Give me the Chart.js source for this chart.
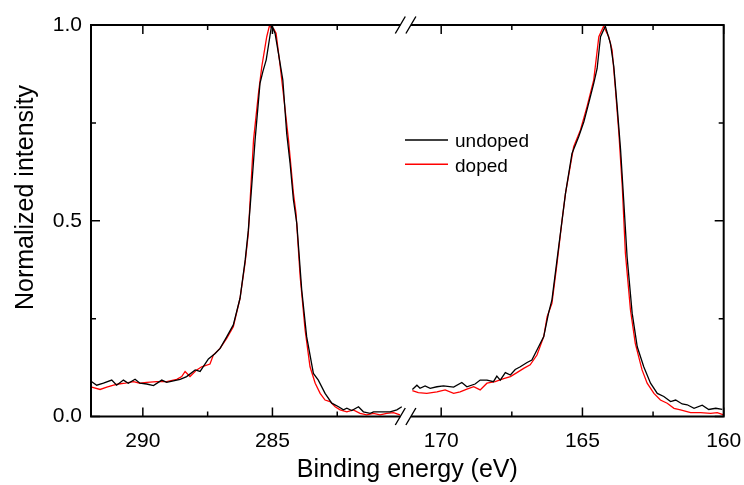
<!DOCTYPE html>
<html>
<head>
<meta charset="utf-8">
<script src="https://cdn.jsdelivr.net/npm/chart.js@4/dist/chart.umd.min.js"></script>
<style>
  html, body { margin: 0; padding: 0; background: #fff; }
  canvas { display: block; }
</style>
</head>
<body>
<canvas id="xps-chart" width="744" height="485"></canvas>
<script>
// C 1s region (left panel), binding energy in eV
const c1sEnergyUndoped = [291.97, 291.78, 291.52, 291.20, 291.01, 290.75, 290.56, 290.30, 290.11, 289.85,
  289.59, 289.27, 289.08, 288.82, 288.56, 288.31, 287.98, 287.79, 287.47, 287.21,
  287.02, 286.76, 286.51, 286.25, 286.05, 285.93, 285.84, 285.67, 285.48, 285.37,
  285.24, 285.03, 284.90, 284.77, 284.60, 284.45, 284.32, 284.19, 284.06, 283.87,
  283.68, 283.42, 283.23, 282.97, 282.71, 282.45, 282.26, 282.13, 281.94, 281.68,
  281.49, 281.23, 281.10, 280.85, 280.46, 280.20, 280.01]
const c1sUndoped = [0.089, 0.080, 0.085, 0.093, 0.080, 0.093, 0.085, 0.095, 0.085, 0.083,
  0.079, 0.093, 0.087, 0.091, 0.095, 0.102, 0.119, 0.115, 0.147, 0.161,
  0.174, 0.204, 0.234, 0.302, 0.400, 0.476, 0.553, 0.706, 0.851, 0.881,
  0.911, 1.000, 0.979, 0.928, 0.860, 0.723, 0.647, 0.553, 0.493, 0.323,
  0.204, 0.110, 0.093, 0.059, 0.034, 0.025, 0.017, 0.021, 0.015, 0.025,
  0.012, 0.008, 0.012, 0.012, 0.012, 0.017, 0.025]

const c1sEnergyDoped = [291.97, 291.65, 291.39, 291.13, 290.94, 290.68, 290.36, 290.11, 289.85, 289.46,
  289.08, 288.69, 288.50, 288.37, 288.18, 287.92, 287.73, 287.41, 287.28, 287.02,
  286.76, 286.51, 286.25, 286.05, 285.93, 285.86, 285.73, 285.54, 285.41, 285.22,
  285.12, 284.96, 284.86, 284.70, 284.58, 284.38, 284.19, 284.09, 283.93, 283.74,
  283.55, 283.35, 283.16, 282.97, 282.78, 282.58, 282.39, 282.13, 281.88, 281.62,
  281.36, 281.10, 280.85, 280.59, 280.33, 280.08]
const c1sDoped = [0.075, 0.069, 0.075, 0.080, 0.083, 0.085, 0.089, 0.085, 0.087, 0.089,
  0.089, 0.095, 0.102, 0.115, 0.102, 0.119, 0.127, 0.134, 0.157, 0.174,
  0.200, 0.229, 0.302, 0.395, 0.468, 0.553, 0.706, 0.825, 0.894, 0.970,
  0.997, 0.991, 0.979, 0.894, 0.825, 0.706, 0.570, 0.519, 0.357, 0.221,
  0.127, 0.085, 0.059, 0.042, 0.038, 0.025, 0.017, 0.012, 0.017, 0.008,
  0.004, 0.008, 0.004, 0.008, 0.010, 0.004]

// S 2p region (right panel)
const s2pEnergyUndoped = [171.02, 170.86, 170.75, 170.57, 170.39, 170.15, 169.92, 169.56, 169.27, 169.09,
  168.80, 168.62, 168.38, 168.15, 168.03, 167.91, 167.73, 167.55, 167.38, 167.20,
  166.96, 166.79, 166.61, 166.37, 166.20, 166.08, 165.90, 165.72, 165.60, 165.37,
  165.13, 164.95, 164.78, 164.60, 164.48, 164.36, 164.19, 164.01, 163.89, 163.77,
  163.65, 163.54, 163.42, 163.24, 163.06, 162.83, 162.59, 162.35, 162.12, 161.88,
  161.70, 161.47, 161.29, 161.05, 160.76, 160.53, 160.28, 160.05]
const s2pUndoped = [0.069, 0.080, 0.072, 0.078, 0.072, 0.076, 0.078, 0.075, 0.087, 0.076,
  0.083, 0.093, 0.093, 0.089, 0.103, 0.093, 0.112, 0.106, 0.120, 0.127,
  0.138, 0.144, 0.170, 0.204, 0.264, 0.298, 0.400, 0.502, 0.570, 0.672,
  0.715, 0.753, 0.800, 0.851, 0.889, 0.970, 0.997, 0.953, 0.894, 0.791,
  0.681, 0.553, 0.408, 0.264, 0.178, 0.127, 0.085, 0.059, 0.051, 0.038,
  0.042, 0.032, 0.030, 0.021, 0.029, 0.018, 0.021, 0.018]

const s2pEnergyDoped = [171.02, 170.81, 170.51, 170.15, 169.86, 169.56, 169.33, 169.09, 168.85, 168.62,
  168.38, 168.09, 167.79, 167.55, 167.32, 167.08, 166.85, 166.61, 166.37, 166.25,
  166.08, 165.90, 165.72, 165.60, 165.31, 165.07, 164.84, 164.60, 164.42, 164.25,
  164.07, 163.95, 163.83, 163.71, 163.59, 163.48, 163.30, 163.13, 162.89, 162.71,
  162.47, 162.24, 162.00, 161.76, 161.53, 161.17, 160.82, 160.46, 160.23, 160.00]
const s2pDoped = [0.066, 0.061, 0.059, 0.063, 0.068, 0.059, 0.063, 0.070, 0.076, 0.068,
  0.085, 0.089, 0.097, 0.102, 0.112, 0.123, 0.132, 0.157, 0.204, 0.255,
  0.289, 0.391, 0.502, 0.570, 0.689, 0.732, 0.791, 0.860, 0.970, 0.997,
  0.970, 0.936, 0.834, 0.723, 0.587, 0.417, 0.272, 0.187, 0.119, 0.085,
  0.059, 0.042, 0.034, 0.021, 0.017, 0.010, 0.010, 0.008, 0.010, 0.004]

// axis ticks (energies) and their labels
const xMajorTicks = [290, 285, 170, 165, 160]
const xMinorTicks = [287.5, 282.5, 167.5, 162.5]
const xTickLabels = ['290', '285', '170', '165', '160']
const yMajorTicks = [0, 0.5, 1]
const yMinorTicks = [0.25, 0.75]

const seriesLabels = ['undoped', 'doped']
const seriesColors = ['#000000', '#ff0000']

// broken axis: both windows go on one linear scale
const leftStart = 292, rightStart = 171.26
const leftScale = 25.92, rightScale = 28.25
const breakU = 314.6
const toU = e => e > 200 ? (leftStart - e) * leftScale : breakU + (rightStart - e) * rightScale
const xMax = toU(160)

const FONT = "'Liberation Sans', Arial, Helvetica, sans-serif"

function buildPoints(eLeft, vLeft, eRight, vRight) {
  const pts = eLeft.map((e, i) => ({ x: toU(e), y: vLeft[i] }))
  pts.push({ x: breakU, y: null })
  return pts.concat(eRight.map((e, i) => ({ x: toU(e), y: vRight[i] })))
}

const framePlugin = {
  id: 'frame',
  afterDraw(chart) {
    const ctx = chart.ctx
    const a = chart.chartArea
    const xs = chart.scales.x
    const ys = chart.scales.y
    const bx = xs.getPixelForValue(breakU)
    const gap = 5.3

    const line = (x1, y1, x2, y2) => { ctx.moveTo(x1, y1); ctx.lineTo(x2, y2) }

    ctx.save()
    ctx.strokeStyle = '#000'

    // frame, top and bottom broken
    ctx.lineWidth = 2
    ctx.beginPath()
    line(a.left, a.top - 1, a.left, a.bottom + 1)
    line(a.right, a.top - 1, a.right, a.bottom + 1)
    ;[a.top, a.bottom].forEach(y => {
      line(a.left, y, bx - gap, y)
      line(bx + gap, y, a.right, y)
    })
    ctx.stroke()

    // inward ticks
    ctx.lineWidth = 1.5
    ctx.beginPath()
    xMajorTicks.forEach(e => {
      const px = xs.getPixelForValue(toU(e))
      line(px, a.bottom, px, a.bottom - 9)
      line(px, a.top, px, a.top + 9)
    })
    xMinorTicks.forEach(e => {
      const px = xs.getPixelForValue(toU(e))
      line(px, a.bottom, px, a.bottom - 5)
      line(px, a.top, px, a.top + 5)
    })
    yMajorTicks.forEach(v => {
      const py = ys.getPixelForValue(v)
      line(a.left, py, a.left + 9, py)
      line(a.right, py, a.right - 9, py)
    })
    yMinorTicks.forEach(v => {
      const py = ys.getPixelForValue(v)
      line(a.left, py, a.left + 5, py)
      line(a.right, py, a.right - 5, py)
    })
    ctx.stroke()

    // break marks //
    ctx.lineWidth = 1.4
    ctx.beginPath()
    ;[a.top, a.bottom].forEach(y => {
      ;[-gap, gap].forEach(dx => line(bx + dx - 5, y + 8.5, bx + dx + 5, y - 8.5))
    })
    ctx.stroke()

    // y title
    ctx.fillStyle = '#000'
    ctx.font = '25px ' + FONT
    ctx.textAlign = 'center'
    ctx.textBaseline = 'alphabetic'
    ctx.translate(32.5, 197.5)
    ctx.rotate(-Math.PI / 2)
    ctx.fillText('Normalized intensity', 0, 0)
    ctx.restore()

    // legend inside the plot
    ctx.save()
    ctx.font = '19px ' + FONT
    ctx.textAlign = 'left'
    ctx.textBaseline = 'alphabetic'
    chart.data.datasets.forEach((ds, i) => {
      const y = 140 + i * 24.3
      ctx.strokeStyle = ds.borderColor
      ctx.lineWidth = 1.5
      ctx.beginPath()
      line(405, y, 448, y)
      ctx.stroke()
      ctx.fillStyle = '#000'
      ctx.fillText(ds.label, 455, y + 7.3)
    })
    ctx.restore()
  }
}

const ctx = document.getElementById('xps-chart').getContext('2d')
const chart = new Chart(ctx, {
  type: 'line',
  data: {
    datasets: [
      {
        label: seriesLabels[0],
        data: buildPoints(c1sEnergyUndoped, c1sUndoped, s2pEnergyUndoped, s2pUndoped),
        borderColor: seriesColors[0],
      },
      {
        label: seriesLabels[1],
        data: buildPoints(c1sEnergyDoped, c1sDoped, s2pEnergyDoped, s2pDoped),
        borderColor: seriesColors[1],
      }
    ]
  },
  options: {
    responsive: false,
    animation: false,
    spanGaps: false,
    layout: { padding: { left: 0, right: 744 - 91 - xMax, top: 25, bottom: 0 } },
    elements: {
      point: { radius: 0 },
      line: { borderWidth: 1.3, tension: 0, fill: false }
    },
    plugins: {
      legend: { display: false },
      tooltip: { enabled: false }
    },
    scales: {
      x: {
        type: 'linear',
        min: 0,
        max: xMax,
        afterBuildTicks: s => { s.ticks = xMajorTicks.map(e => ({ value: toU(e) })) },
        afterFit: s => {
          s.height = 68.5
          s.paddingLeft = 0
          s.paddingRight = 0
        },
        grid: { display: false, drawTicks: false },
        border: { display: false },
        ticks: {
          autoSkip: false,
          maxRotation: 0,
          padding: 12.5,
          color: '#000',
          font: { family: FONT, size: 21 },
          callback: (v, i) => xTickLabels[i]
        },
        title: {
          display: true,
          text: 'Binding energy (eV)',
          color: '#000',
          font: { family: FONT, size: 25 },
          padding: 0
        }
      },
      y: {
        min: 0,
        max: 1,
        afterFit: s => {
          s.width = 91
          s.paddingTop = 0
          s.paddingBottom = 0
        },
        grid: { display: false, drawTicks: false },
        border: { display: false },
        ticks: {
          stepSize: 0.5,
          padding: 9,
          color: '#000',
          font: { family: FONT, size: 21 },
          callback: v => v.toFixed(1)
        }
      }
    }
  },
  plugins: [framePlugin]
})
</script>
</body>
</html>
